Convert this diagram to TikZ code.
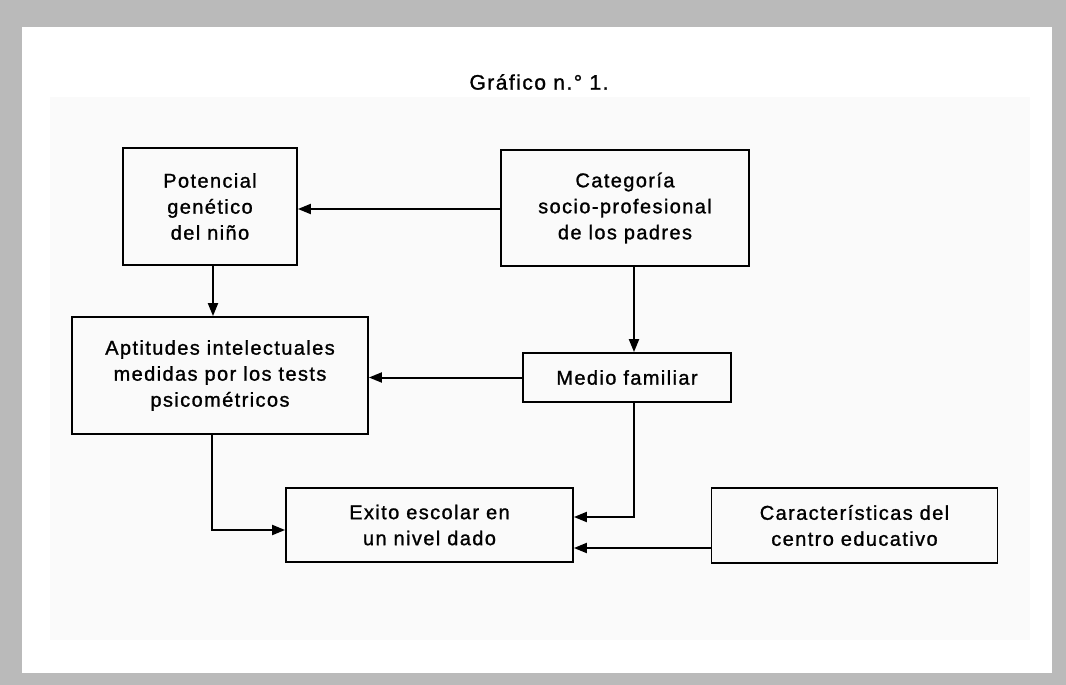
\documentclass[tikz,border=0pt]{standalone}
\usepackage{fontspec}
\setmainfont{Liberation Sans}
\newfontfamily\labfont[LetterSpace=7,FakeBold=1.2]{Liberation Sans}
\usetikzlibrary{arrows.meta}
\begin{document}
\begin{tikzpicture}[x=1pt,y=-1pt,
  box/.style={draw,line width=1.8pt,align=center,inner sep=0pt,
    font=\labfont\fontsize{20}{26}\selectfont},
  arr/.style={line width=2pt,-{Triangle[length=13pt,width=10pt]}}]
\useasboundingbox (0,0) rectangle (1066,685);
\fill[black!27] (0,0) rectangle (1066,685);
\fill[white] (22,27) rectangle (1052,673);
\fill[black!2] (50,97) rectangle (1030,640);
\node[font=\labfont\fontsize{21}{25}\selectfont] (title) at (539,82) {Gráfico n.° 1.};
\node[box,minimum width=174pt,minimum height=117pt] (pot) at (210,206.5) {Potencial\\genético\\del niño};
\node[box,minimum width=248pt,minimum height=116pt] (cat) at (625,208) {Categoría\\socio-profesional\\de los padres};
\node[box,minimum width=296pt,minimum height=117pt] (apt) at (220,375.5) {Aptitudes intelectuales\\medidas por los tests\\psicométricos};
\node[box,minimum width=208pt,minimum height=49pt] (med) at (627,377.5) {Medio familiar};
\node[box,minimum width=287pt,minimum height=74pt] (exi) at (429.5,525) {Exito escolar en\\un nivel dado};
\node[box,minimum width=286pt,minimum height=75pt] (car) at (854.5,525.5) {Características del\\centro educativo};
\coordinate (mx) at (634,0);
\coordinate (ax) at (212,0);
\coordinate (px) at (213,0);
\coordinate (ey1) at (0,530);
\coordinate (ey2) at (0,517);
\coordinate (ey3) at (0,548);
\coordinate (cy) at (0,209);
\draw[arr] (cat.west |- cy) -- (pot.east |- cy);
\draw[arr] (pot.south -| px) -- (apt.north -| px);
\draw[arr] (cat.south -| mx) -- (med.north -| mx);
\draw[arr] (med.west) -- (med.west -| apt.east);
\draw[arr] (apt.south -| ax) |- (exi.west |- ey1);
\draw[arr] (med.south -| mx) |- (exi.east |- ey2);
\draw[arr] (car.west |- ey3) -- (exi.east |- ey3);
\end{tikzpicture}
\end{document}
